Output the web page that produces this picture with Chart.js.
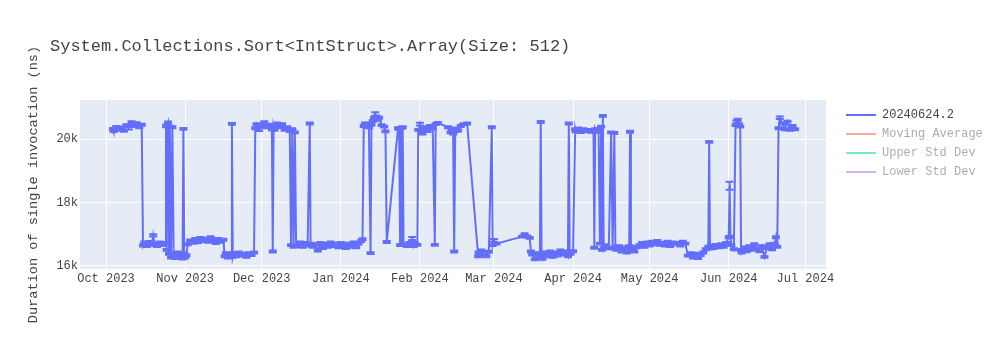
<!DOCTYPE html>
<html>
<head>
<meta charset="utf-8">
<script src="https://cdn.jsdelivr.net/npm/chart.js@4.4.1/dist/chart.umd.min.js"></script>
<style>
  html, body { margin: 0; padding: 0; background: #fff; }
  #wrap { width: 1000px; height: 350px; }
</style>
</head>
<body>
<div id="wrap"><canvas id="c" width="1000" height="350"></canvas></div>
<script>
const chartTitle = 'System.Collections.Sort<IntStruct>.Array(Size: 512)';
const yAxisTitle = 'Duration of single invocation (ns)';
const seriesNames = ['20240624.2', 'Moving Average', 'Upper Std Dev', 'Lower Std Dev'];

const runDates = [
  '2023-10-03T18:00','2023-10-04','2023-10-05','2023-10-06','2023-10-07','2023-10-08','2023-10-09','2023-10-10','2023-10-11','2023-10-12','2023-10-13','2023-10-14','2023-10-15',
  '2023-10-15T12:00','2023-10-16','2023-10-17','2023-10-18','2023-10-19','2023-10-19T12:00','2023-10-20','2023-10-21','2023-10-22','2023-10-23','2023-10-24',
  '2023-10-24T06:00','2023-10-24T12:00','2023-10-24T18:00','2023-10-25T00:00','2023-10-25T08:00','2023-10-25T16:00','2023-10-26T00:00','2023-10-26T12:00','2023-10-27T00:00','2023-10-27T12:00','2023-10-28','2023-10-29','2023-10-30','2023-10-31','2023-10-31T08:00','2023-10-31T16:00','2023-11-01','2023-11-01T12:00',
  '2023-11-02','2023-11-03','2023-11-04','2023-11-05','2023-11-06','2023-11-07','2023-11-08','2023-11-09','2023-11-10','2023-11-11','2023-11-12','2023-11-13','2023-11-14','2023-11-15','2023-11-16',
  '2023-11-16T12:00','2023-11-17','2023-11-18','2023-11-19','2023-11-19T08:00','2023-11-19T16:00','2023-11-20','2023-11-21','2023-11-22','2023-11-23','2023-11-24','2023-11-25','2023-11-26','2023-11-27','2023-11-28',
  '2023-11-28T12:00','2023-11-29','2023-11-30','2023-12-01','2023-12-02','2023-12-03','2023-12-04','2023-12-05','2023-12-05T08:00','2023-12-05T16:00','2023-12-06','2023-12-07','2023-12-08','2023-12-09','2023-12-10','2023-12-11','2023-12-12','2023-12-12T12:00','2023-12-13','2023-12-13T12:00','2023-12-14','2023-12-14T12:00',
  '2023-12-15','2023-12-16','2023-12-17','2023-12-18','2023-12-19','2023-12-19T20:00','2023-12-20T04:00','2023-12-21','2023-12-22','2023-12-23','2023-12-24','2023-12-25','2023-12-26','2023-12-27','2023-12-28','2023-12-29','2023-12-30','2023-12-31','2024-01-01','2024-01-02','2024-01-03','2024-01-04','2024-01-05','2024-01-06','2024-01-07','2024-01-08','2024-01-09','2024-01-09T12:00',
  '2024-01-10','2024-01-10T12:00','2024-01-11','2024-01-11T12:00','2024-01-12','2024-01-12T16:00','2024-01-13','2024-01-13T12:00','2024-01-14','2024-01-14T12:00','2024-01-15','2024-01-15T12:00','2024-01-16','2024-01-17','2024-01-18','2024-01-18T12:00','2024-01-19',
  '2024-01-23T10:00','2024-01-23T20:00','2024-01-24T06:00','2024-01-24T14:00','2024-01-24T22:00','2024-01-25T06:00','2024-01-25T14:00',
  '2024-01-26','2024-01-27','2024-01-28','2024-01-29','2024-01-29T12:00','2024-01-30','2024-01-31',
  '2024-01-31T08:00','2024-02-01','2024-02-01T12:00','2024-02-02','2024-02-03','2024-02-04','2024-02-05','2024-02-06','2024-02-06T20:00','2024-02-07T04:00','2024-02-08','2024-02-12','2024-02-13','2024-02-13T12:00','2024-02-14','2024-02-14T10:00','2024-02-14T20:00','2024-02-15','2024-02-16','2024-02-17','2024-02-18','2024-02-19T12:00',
  '2024-02-23T20:00','2024-02-24','2024-02-25','2024-02-26','2024-02-27','2024-02-28','2024-02-29T04:00','2024-02-29T12:00','2024-03-01','2024-03-02','2024-03-12','2024-03-13','2024-03-14','2024-03-15',
  '2024-03-15T12:00','2024-03-16','2024-03-17','2024-03-18','2024-03-19','2024-03-19T08:00','2024-03-19T16:00','2024-03-20','2024-03-21','2024-03-22','2024-03-23','2024-03-24','2024-03-25','2024-03-26','2024-03-27','2024-03-28','2024-03-29','2024-03-30','2024-03-30T08:00','2024-03-30T16:00','2024-03-31','2024-04-01',
  '2024-04-01T20:00','2024-04-02','2024-04-03','2024-04-04','2024-04-05','2024-04-06','2024-04-07','2024-04-08','2024-04-09','2024-04-09T08:00','2024-04-09T16:00','2024-04-10','2024-04-11','2024-04-11T12:00','2024-04-12','2024-04-12T08:00','2024-04-12T16:00','2024-04-13','2024-04-13T12:00','2024-04-14','2024-04-15','2024-04-15T22:00','2024-04-16T12:00','2024-04-17T04:00','2024-04-17T14:00',
  '2024-04-18','2024-04-19','2024-04-20','2024-04-21','2024-04-22','2024-04-23','2024-04-23T08:00','2024-04-23T16:00','2024-04-24','2024-04-25','2024-04-26','2024-04-27','2024-04-28','2024-04-29','2024-04-30','2024-05-01','2024-05-02','2024-05-03','2024-05-04','2024-05-05','2024-05-06','2024-05-07','2024-05-08','2024-05-09','2024-05-10','2024-05-11','2024-05-12','2024-05-13','2024-05-14','2024-05-15',
  '2024-05-16','2024-05-17','2024-05-18','2024-05-19','2024-05-20','2024-05-21','2024-05-22','2024-05-23','2024-05-24','2024-05-24T08:00','2024-05-24T16:00','2024-05-25','2024-05-26','2024-05-27','2024-05-28','2024-05-29','2024-05-30','2024-05-31',
  '2024-06-01','2024-06-01T08:00','2024-06-01T16:00','2024-06-02','2024-06-03','2024-06-03T16:00','2024-06-04','2024-06-04T12:00','2024-06-05','2024-06-05T12:00','2024-06-05T20:00','2024-06-06','2024-06-07','2024-06-08','2024-06-09','2024-06-10','2024-06-11','2024-06-12','2024-06-13','2024-06-14','2024-06-15','2024-06-16','2024-06-17','2024-06-18','2024-06-19','2024-06-19T12:00','2024-06-20',
  '2024-06-20T12:00','2024-06-21','2024-06-22','2024-06-23','2024-06-24','2024-06-25','2024-06-26','2024-06-27'
];

const durations = [
  20330,20260,20400,20300,20380,20270,20450,20350,20540,20420,20500,20380,20460,
  16640,16740,16620,16760,16660,16960,16700,16620,16740,16650,16720,
  16720,20420,16500,20450,20530,16380,20400,16260,20380,16400,16250,16420,16300,16230,20330,16380,16260,16330,
  16680,16800,16720,16850,16740,16880,16780,16860,16760,16900,16800,16720,16850,16760,16820,
  16300,16400,16260,16380,20490,16280,16400,16300,16420,16320,16380,16280,16400,16340,16420,
  20350,20480,20300,20420,20540,20380,20460,20320,16450,20420,20300,20500,20380,20480,20300,20380,20260,16650,20320,16600,20220,16620,
  16620,16740,16600,16720,16640,20500,16700,16600,16680,16480,16720,16560,16700,16600,16740,16620,16700,16580,16720,16640,16560,16700,16600,16740,16580,16700,16780,16840,
  20420,20500,20400,20480,20380,16400,20460,20580,20680,20800,20720,20620,20680,20450,20400,20250,16750,
  20350,20330,16650,20360,16660,20380,16650,
  16680,16620,16720,16860,16620,16720,16660,
  20300,20480,20250,20180,20380,20260,20420,20350,16660,20480,20520,20380,20220,20320,20180,16450,20260,20340,20280,20420,20480,20500,
  16300,16420,16480,16360,16300,16440,20380,16650,16800,16700,16920,17000,16930,16880,
  16450,16350,16200,16400,16300,20550,16380,16220,16420,16300,16450,16280,16420,16320,16480,16350,16440,16300,20500,16450,16380,16460,
  20320,20250,20340,20230,20320,20260,20300,20240,20300,16570,20320,20240,20320,16700,20400,16500,20740,16550,16650,16600,16550,20220,16550,20200,16600,
  16500,16620,16450,16580,16420,16620,20240,16520,16600,16450,16580,16650,16720,16600,16740,16640,16760,16680,16780,16660,16720,16640,16760,16620,16740,16680,16720,16640,16760,16700,
  16320,16400,16260,16380,16240,16340,16420,16520,16600,19920,16540,16640,16560,16660,16580,16680,16600,16720,
  16900,18530,16920,16650,16520,20450,20550,20620,20480,20400,16500,16420,16580,16460,16620,16500,16680,16540,16460,16620,16280,16560,16680,16520,16700,16900,16600,
  20350,20680,20500,20320,20560,20300,20420,20320
];

const stdErrors = [
  30,30,25,30,25,30,30,40,30,30,40,30,30,
  30,25,30,25,30,35,25,30,25,30,30,
  30,40,30,30,30,30,30,30,30,30,40,30,30,30,30,30,30,30,
  30,30,25,30,30,30,30,25,30,30,30,30,30,30,30,
  30,30,30,30,30,30,30,30,30,30,30,30,30,30,30,
  30,30,40,30,30,30,30,30,30,30,30,30,30,30,30,30,30,30,30,30,30,30,
  30,30,30,30,30,30,30,30,30,30,30,30,30,30,30,30,30,30,30,30,30,30,30,30,30,30,30,30,
  30,30,30,30,30,30,30,30,30,60,30,30,30,30,30,30,30,
  30,30,30,30,30,30,30,
  30,30,30,50,30,30,30,
  30,45,30,30,30,30,30,30,30,30,30,30,30,30,30,30,30,30,30,30,30,30,
  30,30,30,30,30,30,30,30,45,30,30,30,30,30,
  30,30,30,30,30,30,30,30,30,30,30,30,30,30,30,30,30,30,30,30,30,30,
  30,30,30,30,30,30,30,30,30,30,30,30,30,30,30,30,30,30,30,30,30,30,30,30,30,
  30,30,30,30,30,30,30,30,30,30,30,30,30,30,30,30,30,30,30,30,30,30,30,30,30,30,30,30,30,30,
  30,30,30,30,30,30,30,30,30,30,30,30,30,30,30,30,30,30,
  30,130,30,30,30,30,45,30,30,30,30,30,30,30,30,30,30,30,30,30,30,30,30,30,30,30,30,
  30,40,30,30,30,30,30,30
];

const monthTicks = ['2023-10-01','2023-11-01','2023-12-01','2024-01-01','2024-02-01','2024-03-01','2024-04-01','2024-05-01','2024-06-01','2024-07-01'];
const monthLabels = ['Oct 2023','Nov 2023','Dec 2023','Jan 2024','Feb 2024','Mar 2024','Apr 2024','May 2024','Jun 2024','Jul 2024'];
const yTicks = [16000, 18000, 20000];
const yTickLabels = ['16k', '18k', '20k'];
const xRange = ['2023-09-20T19:30', '2024-07-09T02:30'];
const yRange = [15896, 21244];

const toTime = s => Date.parse(s.length === 10 ? s + 'T00:00Z' : s + 'Z');
const FONT = "'Courier New', 'Liberation Mono', monospace";
const TEXT = '#444';
const points = runDates.map((d, i) => ({ x: toTime(d), y: durations[i] }));

const plotBg = {
  id: 'plotBg',
  beforeDraw(chart) {
    const { ctx, chartArea: a } = chart;
    ctx.save();
    ctx.fillStyle = '#e5ecf6';
    ctx.fillRect(a.left, a.top, a.right - a.left, a.bottom - a.top);
    ctx.restore();
  }
};

const errorBars = {
  id: 'errorBars',
  afterDatasetsDraw(chart) {
    const meta = chart.getDatasetMeta(0);
    const ys = chart.scales.y;
    const { ctx, chartArea: a } = chart;
    ctx.save();
    ctx.beginPath();
    ctx.rect(a.left, a.top, a.right - a.left, a.bottom - a.top);
    ctx.clip();
    ctx.strokeStyle = '#636efa';
    ctx.lineWidth = 2;
    meta.data.forEach((pt, i) => {
      const v = durations[i], e = stdErrors[i];
      const y1 = ys.getPixelForValue(v + e), y2 = ys.getPixelForValue(v - e);
      const x = pt.x;
      ctx.beginPath();
      ctx.moveTo(x, y1); ctx.lineTo(x, y2);
      ctx.moveTo(x - 4, y1); ctx.lineTo(x + 4, y1);
      ctx.moveTo(x - 4, y2); ctx.lineTo(x + 4, y2);
      ctx.stroke();
    });
    ctx.restore();
  }
};

const layoutPatch = {
  id: 'layoutPatch',
  afterInit(chart) {
    const lg = chart.legend;
    const fit = lg.fit.bind(lg);
    lg.fit = function () { fit(); this.width = 174; };
  },
  afterLayout(chart) {
    const lg = chart.legend;
    lg.left = 839; lg.right = 1000; lg.top = 102; lg.bottom = 350;
    const tb = chart.titleBlock;
    tb.left = 50; tb.right = 1000;
  }
};

new Chart(document.getElementById('c'), {
  type: 'line',
  data: {
    datasets: [
      { label: seriesNames[0], data: points, borderColor: '#636efa', backgroundColor: '#636efa', borderWidth: 2, pointRadius: 0, tension: 0, fill: false },
      { label: seriesNames[1], data: [], hidden: true, borderColor: 'rgba(239,85,59,0.5)', backgroundColor: 'rgba(239,85,59,0.5)' },
      { label: seriesNames[2], data: [], hidden: true, borderColor: 'rgba(0,204,150,0.5)', backgroundColor: 'rgba(0,204,150,0.5)' },
      { label: seriesNames[3], data: [], hidden: true, borderColor: 'rgba(171,99,250,0.5)', backgroundColor: 'rgba(171,99,250,0.5)' }
    ]
  },
  options: {
    responsive: false,
    animation: false,
    devicePixelRatio: 1,
    layout: { padding: 0 },
    scales: {
      x: {
        type: 'linear',
        bounds: 'data',
        min: toTime(xRange[0]),
        max: toTime(xRange[1]),
        afterBuildTicks: s => { s.ticks = monthTicks.map(d => ({ value: toTime(d) })); },
        afterFit: s => { s.height = 81; },
        ticks: {
          autoSkip: false, maxRotation: 0, minRotation: 0, padding: 3,
          color: TEXT, font: { family: FONT, size: 12 },
          callback: (v, i) => monthLabels[i]
        },
        grid: { color: '#ffffff', lineWidth: 1, drawTicks: false },
        border: { display: false }
      },
      y: {
        type: 'linear',
        bounds: 'data',
        min: yRange[0],
        max: yRange[1],
        afterBuildTicks: s => { s.ticks = yTicks.map(v => ({ value: v })); },
        afterFit: s => { s.width = 80; },
        ticks: {
          padding: 2, color: TEXT, font: { family: FONT, size: 12 },
          callback: (v, i) => yTickLabels[i]
        },
        grid: { color: '#ffffff', lineWidth: 1, drawTicks: false },
        border: { display: false },
        title: {
          display: true, text: yAxisTitle, color: TEXT,
          font: { family: FONT, size: 13.6 },
          padding: { top: 25.5, bottom: 0 }
        }
      }
    },
    plugins: {
      title: {
        display: true, text: chartTitle, align: 'start', color: TEXT,
        font: { family: FONT, size: 17, weight: 'normal' },
        padding: { top: 36, bottom: 43.6 }
      },
      legend: {
        position: 'right', align: 'start',
        onClick: null,
        labels: {
          usePointStyle: true, pointStyleWidth: 30, padding: 7,
          color: TEXT, font: { family: FONT, size: 12 },
          generateLabels: chart => chart.data.datasets.map((ds, i) => ({
            text: ds.label, datasetIndex: i, hidden: false,
            fillStyle: ds.borderColor, strokeStyle: ds.borderColor, lineWidth: 2,
            pointStyle: 'line',
            fontColor: i === 0 ? TEXT : 'rgba(68,68,68,0.45)'
          }))
        }
      },
      tooltip: { enabled: false }
    }
  },
  plugins: [plotBg, errorBars, layoutPatch]
});
</script>
</body>
</html>
